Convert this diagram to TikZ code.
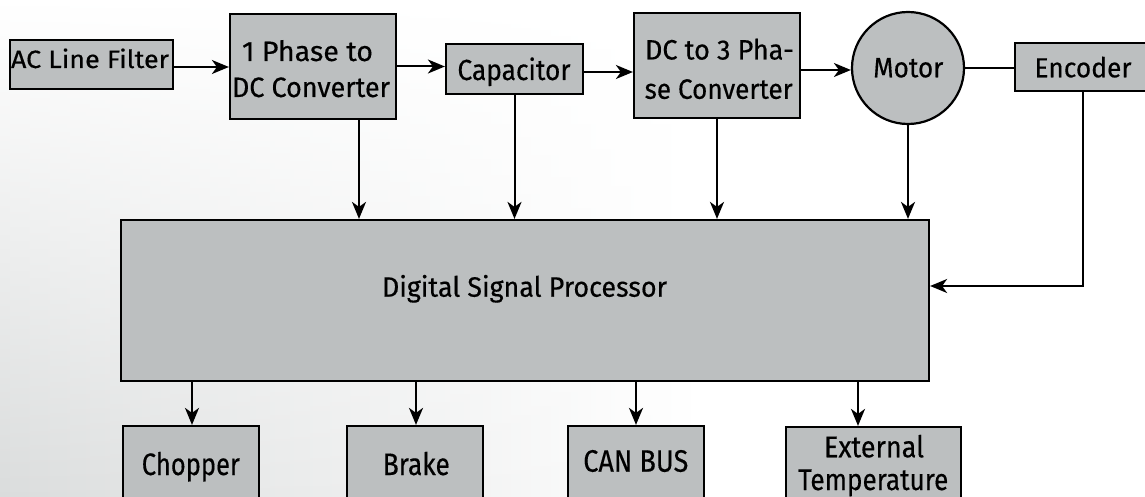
\documentclass[tikz,border=0pt]{standalone}
\usepackage{graphicx}
\usepackage{fontspec}
\setmainfont{Fira Sans}[UprightFeatures={FakeBold=0.4}]
\usetikzlibrary{arrows.meta,fadings,calc}
\definecolor{boxgray}{RGB}{188,191,192}
\definecolor{bggray}{RGB}{218,220,220}
\newcommand\fw[2]{\resizebox{#1pt}{\height}{#2}}
\begin{document}
\begin{tikzpicture}[x=1pt,y=-1pt,
  box/.style={draw=black,line width=2.2pt,fill=boxgray,inner sep=0pt},
  lbl/.style={anchor=base,inner sep=0pt,text=black},
  arr/.style={line width=2pt,-{Stealth[length=17pt,width=14pt,inset=5pt]}},
  ln/.style={line width=2pt}]
\useasboundingbox (0,0) rectangle (1145,497);
% background
\shade[left color=bggray,right color=white,path fading=north] (0,0) rectangle (700,497);
% top row
\node[box,minimum width=163pt,minimum height=49pt] (ac) at (91.5,64.5) {};
\node[box,minimum width=166pt,minimum height=105pt] (ph1) at (313,66.5) {};
\node[box,minimum width=137pt,minimum height=50pt] (cap) at (514.5,69) {};
\node[box,minimum width=166pt,minimum height=105pt] (dc3) at (717,65.5) {};
\node[box,circle,minimum size=112pt] (motor) at (908,68) {};
\node[box,minimum width=136pt,minimum height=48pt] (enc) at (1083,67) {};
% DSP
\node[box,minimum width=808pt,minimum height=161pt] (dsp) at (525,300.5) {};
% bottom row
\node[box,minimum width=136pt,minimum height=90pt] (chop) at (191,471) {};
\node[box,minimum width=136pt,minimum height=90pt] (brake) at (415,471) {};
\node[box,minimum width=136pt,minimum height=90pt] (can) at (636,471) {};
\node[box,minimum width=175pt,minimum height=90pt] (ext) at (873.5,472) {};
% labels
\node[lbl,font=\fontsize{25}{28}\selectfont] (tac) at (90,68) {\fw{158}{AC Line Filter}};
\node[lbl,font=\fontsize{28}{30}\selectfont] (tph1a) at (307.5,61) {\fw{131}{1 Phase to}};
\node[lbl,font=\fontsize{28}{30}\selectfont] (tph1b) at (311,97) {\fw{158}{DC Converter}};
\node[lbl,font=\fontsize{29}{30}\selectfont] (tcap) at (514,80) {\fw{113}{Capacitor}};
\node[lbl,font=\fontsize{28}{30}\selectfont] (tdc3a) at (719.5,59.5) {\fw{149}{DC to 3 Pha-}};
\node[lbl,font=\fontsize{28}{30}\selectfont] (tdc3b) at (718.7,98.8) {\fw{148}{se Converter}};
\node[lbl,font=\fontsize{28}{30}\selectfont] (tmotor) at (908.3,77.3) {\fw{70}{Motor}};
\node[lbl,font=\fontsize{27.5}{30}\selectfont] (tenc) at (1083,77.3) {\fw{97}{Encoder}};
\node[lbl,font=\fontsize{28}{30}\selectfont] (tdsp) at (524.5,296.7) {\fw{285}{Digital Signal Processor}};
\node[lbl,font=\fontsize{31}{33}\selectfont] (tchop) at (190.8,475) {\fw{98}{Chopper}};
\node[lbl,font=\fontsize{31}{33}\selectfont] (tbrake) at (416.3,475) {\fw{67}{Brake}};
\node[lbl,font=\fontsize{31}{33}\selectfont] (tcan) at (635.8,471.7) {\fw{105}{CAN BUS}};
\node[lbl,font=\fontsize{30}{33}\selectfont] (texta) at (874,457.3) {\fw{100}{External}};
\node[lbl,font=\fontsize{30}{33}\selectfont] (textb) at (873.3,490) {\fw{150}{Temperature}};
% connectors top row
\draw[arr] ([yshift=-2.5pt]ac.east) -- ([yshift=-2.5pt]ac.east -| ph1.west);
\draw[arr] (ph1.east) -- (ph1.east -| cap.west);
\draw[arr] ([yshift=-3pt]cap.east) -- ([yshift=-3pt]cap.east -| dc3.west);
\draw[arr] ([yshift=-2pt]motor.west -| dc3.east) -- ([yshift=-2pt]motor.west);
\draw[ln] (motor.east) -- (motor.east -| enc.west);
% down to DSP
\draw[arr] ([xshift=46pt]ph1.south) -- ([xshift=46pt]ph1.south |- dsp.north);
\draw[arr] (cap.south) -- (cap.south |- dsp.north);
\draw[arr] (dc3.south) -- (dc3.south |- dsp.north);
\draw[arr] (motor.south) -- (motor.south |- dsp.north);
\draw[arr] (enc.south) |- ([yshift=14.5pt]dsp.east);
% DSP outputs
\draw[arr] ([xshift=1pt]chop.north |- dsp.south) -- ([xshift=1pt]chop.north);
\draw[arr] ([xshift=1pt]brake.north |- dsp.south) -- ([xshift=1pt]brake.north);
\draw[arr] (can.north |- dsp.south) -- (can.north);
\draw[arr] ([xshift=-15.5pt]ext.north |- dsp.south) -- ([xshift=-15.5pt]ext.north);
\end{tikzpicture}
\end{document}
